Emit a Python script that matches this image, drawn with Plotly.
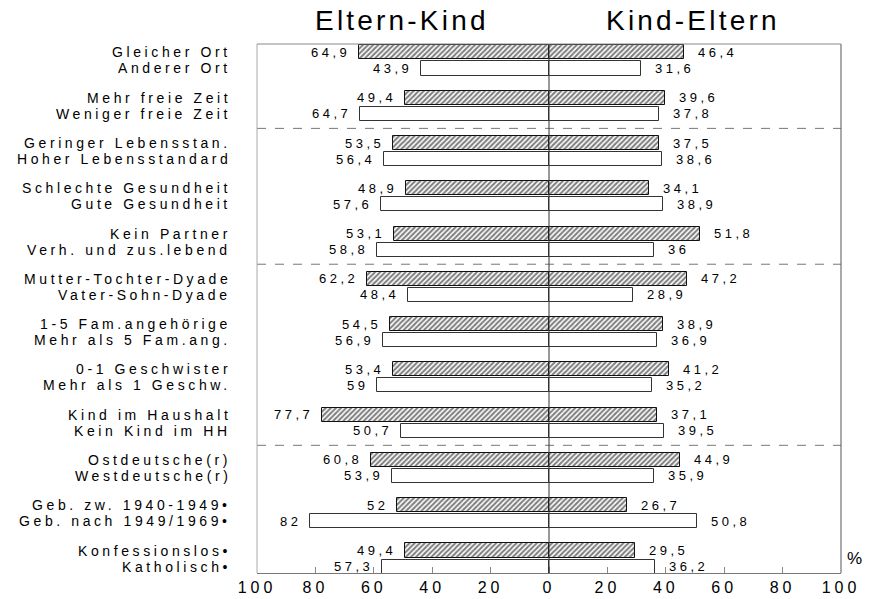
import plotly.graph_objects as go

cats_top = ["Gleicher Ort", "Mehr freie Zeit", "Geringer Lebensstan.", "Schlechte Gesundheit",
            "Kein Partner", "Mutter-Tochter-Dyade", "1-5 Fam.angehörige", "0-1 Geschwister",
            "Kind im Haushalt", "Ostdeutsche(r)", "Geb. zw. 1940-1949•", "Konfessionslos•"]
cats_bottom = ["Anderer Ort", "Weniger freie Zeit", "Hoher Lebensstandard", "Gute Gesundheit",
               "Verh. und zus.lebend", "Vater-Sohn-Dyade", "Mehr als 5 Fam.ang.", "Mehr als 1 Geschw.",
               "Kein Kind im HH", "Westdeutsche(r)", "Geb. nach 1949/1969•", "Katholisch•"]

eltern_kind_top = [64.9, 49.4, 53.5, 48.9, 53.1, 62.2, 54.5, 53.4, 77.7, 60.8, 52, 49.4]
eltern_kind_bottom = [43.9, 64.7, 56.4, 57.6, 58.8, 48.4, 56.9, 59, 50.7, 53.9, 82, 57.3]
kind_eltern_top = [46.4, 39.6, 37.5, 34.1, 51.8, 47.2, 38.9, 41.2, 37.1, 44.9, 26.7, 29.5]
kind_eltern_bottom = [31.6, 37.8, 38.6, 38.9, 36, 28.9, 36.9, 35.2, 39.5, 35.9, 50.8, 36.2]

tick_vals = [-100, -80, -60, -40, -20, 0, 20, 40, 60, 80, 100]
tick_text = ["100", "80", "60", "40", "20", "0", "20", "40", "60", "80", "100"]
separators = [1.5, 4.5, 8.5]

OFF = 0.177
BW = 0.31
FONT = "Liberation Sans, Arial, sans-serif"

def sp(t, ls):
    return f'<span style="letter-spacing:{ls}px">{t}</span>'

def fmt(v):
    return f"{v:g}".replace(".", ",")

n = len(cats_top)
y_top = [k - OFF for k in range(n)]
y_bot = [k + OFF for k in range(n)]

hatch = dict(shape="/", size=3.6, solidity=0.55, fgcolor="#000", bgcolor="white")
line = dict(color="#111", width=1)

fig = go.Figure()
fig.add_trace(go.Bar(x=[-v for v in eltern_kind_top], y=y_top, orientation="h", width=BW,
                     marker=dict(color="white", pattern=hatch, line=line), showlegend=False,
                     hoverinfo="skip"))
fig.add_trace(go.Bar(x=kind_eltern_top, y=y_top, orientation="h", width=BW,
                     marker=dict(color="white", pattern=hatch, line=line), showlegend=False,
                     hoverinfo="skip"))
fig.add_trace(go.Bar(x=[-v for v in eltern_kind_bottom], y=y_bot, orientation="h", width=BW,
                     marker=dict(color="white", line=dict(color="#333", width=1)), showlegend=False,
                     hoverinfo="skip"))
fig.add_trace(go.Bar(x=kind_eltern_bottom, y=y_bot, orientation="h", width=BW,
                     marker=dict(color="white", line=dict(color="#333", width=1)), showlegend=False,
                     hoverinfo="skip"))

ann = []
valfont = dict(family=FONT, size=13, color="#000")
catfont = dict(family=FONT, size=14, color="#000")
for k in range(n):
    for yy, lv, rv, cat in [(y_top[k], eltern_kind_top[k], kind_eltern_top[k], cats_top[k]),
                            (y_bot[k], eltern_kind_bottom[k], kind_eltern_bottom[k], cats_bottom[k])]:
        ann.append(dict(x=-lv, y=yy, xref="x", yref="y", text=sp(fmt(lv), 3.5), showarrow=False,
                        xanchor="right", yanchor="middle", xshift=-7, font=valfont))
        ann.append(dict(x=rv, y=yy, xref="x", yref="y", text=sp(fmt(rv), 3.5), showarrow=False,
                        xanchor="left", yanchor="middle", xshift=12, font=valfont))
        ann.append(dict(x=0, y=yy, xref="paper", yref="y", text=sp(cat, 3.6), showarrow=False,
                        xanchor="right", yanchor="middle", xshift=-24, font=catfont))

ann.append(dict(x=-50.5, y=1, xref="x", yref="paper", text=sp("Eltern-Kind", 3.2), showarrow=False,
                xanchor="center", yanchor="middle", yshift=24,
                font=dict(family=FONT, size=28, color="#000")))
ann.append(dict(x=49.3, y=1, xref="x", yref="paper", text=sp("Kind-Eltern", 3.2), showarrow=False,
                xanchor="center", yanchor="middle", yshift=24,
                font=dict(family=FONT, size=28, color="#000")))
ann.append(dict(x=1, y=0, xref="paper", yref="paper", text="%", showarrow=False,
                xanchor="left", yanchor="bottom", xshift=4, yshift=3,
                font=dict(family=FONT, size=17, color="#000")))

shapes = []
for s in separators:
    shapes.append(dict(type="line", xref="paper", yref="y", x0=0, x1=1, y0=s, y1=s,
                       line=dict(color="#777", width=1, dash="dash")))
shapes.append(dict(type="line", xref="x", yref="paper", x0=0, x1=0, y0=0, y1=1,
                   line=dict(color="#333", width=1)))
shapes.append(dict(type="line", xref="paper", yref="paper", x0=0, x1=0, y0=0, y1=1,
                   line=dict(color="#aaa", width=1)))
shapes.append(dict(type="line", xref="paper", yref="paper", x0=1, x1=1, y0=0, y1=1,
                   line=dict(color="#555", width=1)))
shapes.append(dict(type="line", xref="paper", yref="paper", x0=0, x1=1, y0=1, y1=1,
                   line=dict(color="#888", width=1)))

fig.update_layout(
    width=874, height=599,
    margin=dict(l=257, r=33, t=44, b=26, autoexpand=False),
    paper_bgcolor="white", plot_bgcolor="white",
    barmode="overlay", bargap=0,
    annotations=ann, shapes=shapes,
    xaxis=dict(range=[-100, 100], tickvals=tick_vals,
               ticktext=[sp(t, 4) for t in tick_text], automargin=False,
               showgrid=False, zeroline=False, showline=True, linecolor="#777", linewidth=1,
               ticks="inside", ticklen=6, tickcolor="#888",
               tickfont=dict(family=FONT, size=16, color="#000"), fixedrange=True),
    yaxis=dict(range=[11.32, -0.364], showticklabels=False, showgrid=False, zeroline=False,
               showline=False, ticks="", fixedrange=True, automargin=False),
)

fig.write_html("out.html", config={"displayModeBar": False},
               post_script="document.body.style.margin='0px';document.body.style.overflow='hidden';")
